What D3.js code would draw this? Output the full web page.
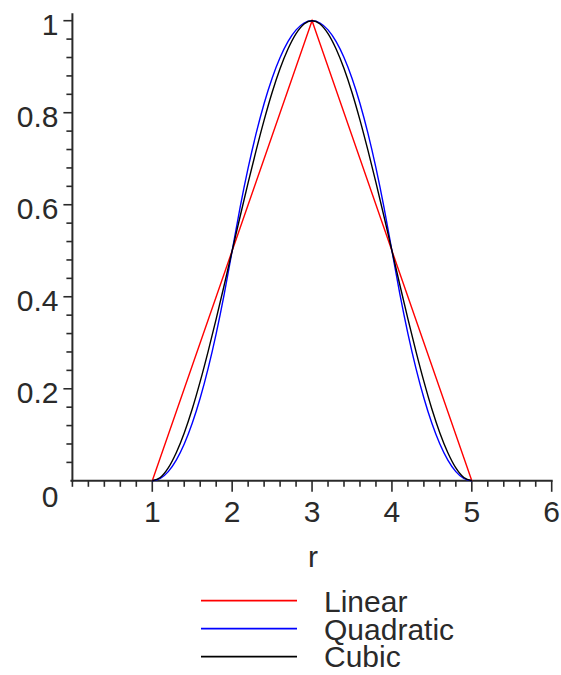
<!DOCTYPE html>
<html><head><meta charset="utf-8">
<script src="https://cdn.jsdelivr.net/npm/d3@7"></script>
<style>body{margin:0;background:#fff}svg{display:block}</style>
</head><body>
<script>
// Data
const rValues = [1.0,1.1,1.2,1.3,1.4,1.5,1.6,1.7,1.8,1.9,2.0,2.1,2.2,2.3,2.4,2.5,2.6,2.7,2.8,2.9,3.0,
                 3.1,3.2,3.3,3.4,3.5,3.6,3.7,3.8,3.9,4.0,4.1,4.2,4.3,4.4,4.5,4.6,4.7,4.8,4.9,5.0];
const linearValues = [0,0.05,0.1,0.15,0.2,0.25,0.3,0.35,0.4,0.45,0.5,0.55,0.6,0.65,0.7,0.75,0.8,0.85,0.9,0.95,1,
                      0.95,0.9,0.85,0.8,0.75,0.7,0.65,0.6,0.55,0.5,0.45,0.4,0.35,0.3,0.25,0.2,0.15,0.1,0.05,0];
const quadraticValues = [0,0.005,0.02,0.045,0.08,0.125,0.18,0.245,0.32,0.405,0.5,0.595,0.68,0.755,0.82,0.875,0.92,0.955,0.98,0.995,1,
                         0.995,0.98,0.955,0.92,0.875,0.82,0.755,0.68,0.595,0.5,0.405,0.32,0.245,0.18,0.125,0.08,0.045,0.02,0.005,0];
const cubicValues = [0,0.007,0.028,0.061,0.104,0.156,0.216,0.282,0.352,0.425,0.5,0.575,0.648,0.718,0.784,0.844,0.896,0.939,0.972,0.993,1,
                     0.993,0.972,0.939,0.896,0.844,0.784,0.718,0.648,0.575,0.5,0.425,0.352,0.282,0.216,0.156,0.104,0.061,0.028,0.007,0];
const seriesNames = ["Linear","Quadratic","Cubic"];
const seriesColors = ["#ff0000","#0000ff","#000000"];
const xTickLabels = [1,2,3,4,5,6];
const yTickLabels = [0,0.2,0.4,0.6,0.8,1];
const xTitle = "r";

const W = 561, H = 675;
const svg = d3.select("body").append("svg").attr("width", W).attr("height", H);
const x = d3.scaleLinear().domain([0,6]).range([72.4,551.7]);
const y = d3.scaleLinear().domain([0,1]).range([480.8,20.7]);
const font = "'Liberation Sans', Arial, sans-serif";
const axisColor = "#2a2a2a";
const textColor = "#2a2a2a";

// axes lines
svg.append("line").attr("x1", x(0)-2).attr("x2", x(6)+1).attr("y1", y(0)).attr("y2", y(0))
  .attr("stroke", axisColor).attr("stroke-width", 2);
svg.append("line").attr("x1", x(0)).attr("x2", x(0)).attr("y1", y(0)+1).attr("y2", y(1)-7.5)
  .attr("stroke", axisColor).attr("stroke-width", 2);

// x ticks: minor every 0.2, major at integers
const xMinor = d3.range(0, 30.5).map(i => i*0.2);
svg.append("g").selectAll("line").data(xMinor).join("line")
  .attr("x1", d => x(d)).attr("x2", d => x(d))
  .attr("y1", y(0))
  .attr("y2", d => Math.abs(d - Math.round(d)) < 1e-6 && d > 0 ? y(0)+11 : y(0)+6)
  .attr("stroke", axisColor).attr("stroke-width", 1.6);

// y ticks: minor every 0.04, major at 0.2
const yMinor = d3.range(1, 25.5).map(i => i*0.04);
svg.append("g").selectAll("line").data(yMinor).join("line")
  .attr("y1", d => y(d)).attr("y2", d => y(d))
  .attr("x1", x(0))
  .attr("x2", d => Math.abs(d*5 - Math.round(d*5)) < 1e-6 ? x(0)-9 : x(0)-6)
  .attr("stroke", axisColor).attr("stroke-width", 1.6);

// x tick labels
svg.append("g").selectAll("text").data(xTickLabels).join("text")
  .attr("x", d => x(d)).attr("y", 522)
  .attr("text-anchor", "middle").attr("font-family", font).attr("font-size", 30)
  .attr("fill", textColor).text(d => d);

// y tick labels
svg.append("g").selectAll("text").data(yTickLabels).join("text")
  .attr("x", 58.5).attr("y", d => d === 0 ? 506.5 : y(d) + 14)
  .attr("text-anchor", "end").attr("font-family", font).attr("font-size", 30)
  .attr("fill", textColor).text(d => d);

// x title
svg.append("text").attr("x", x(3)+1).attr("y", 567).attr("text-anchor", "middle")
  .attr("font-family", font).attr("font-size", 30).attr("fill", textColor).text(xTitle);

// curves
const seriesValues = [linearValues, quadraticValues, cubicValues];
const line = d3.line().x(d => x(d[0])).y(d => y(d[1])).curve(d3.curveMonotoneX);
seriesValues.forEach((vals, i) => {
  const pts = rValues.map((r, j) => [r, vals[j]]);
  svg.append("path").datum(pts).attr("d", i === 0 ? d3.line().x(d => x(d[0])).y(d => y(d[1]))(pts) : line)
    .attr("fill", "none").attr("stroke", seriesColors[i]).attr("stroke-width", 1.4);
});

// legend
const legendY = [600.7, 628.7, 656.7];
const legendBase = [612, 640, 667];
seriesNames.forEach((name, i) => {
  svg.append("line").attr("x1", 201).attr("x2", 297).attr("y1", legendY[i]).attr("y2", legendY[i])
    .attr("stroke", seriesColors[i]).attr("stroke-width", 1.7);
  svg.append("text").attr("x", 324).attr("y", legendBase[i]).attr("font-family", font)
    .attr("font-size", 30).attr("fill", textColor).text(name);
});
</script>
</body></html>
